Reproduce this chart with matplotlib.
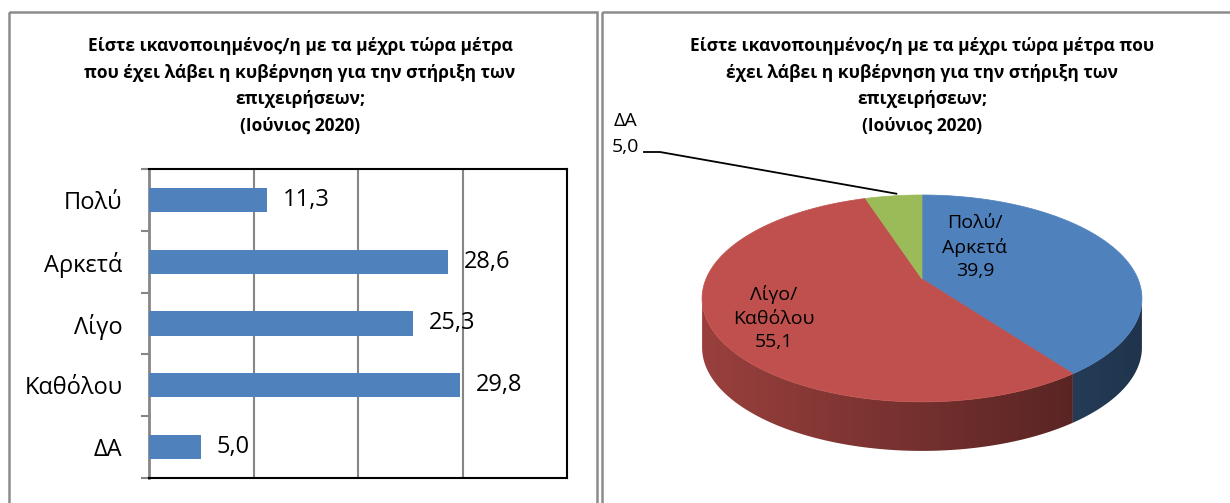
import numpy as np
import matplotlib
matplotlib.use("Agg")
import matplotlib.pyplot as plt
from matplotlib.patches import Polygon, Rectangle

plt.rcParams["font.family"] = ["Open Sans", "DejaVu Sans"]

# data
bar_labels = ["Πολύ", "Αρκετά", "Λίγο", "Καθόλου", "ΔΑ"]
bar_values = [11.3, 28.6, 25.3, 29.8, 5.0]
bar_texts = ["11,3", "28,6", "25,3", "29,8", "5,0"]

pie_labels = ["Πολύ/\nΑρκετά", "Λίγο/\nΚαθόλου", "ΔΑ"]
pie_values = [39.9, 55.1, 5.0]
pie_texts = ["39,9", "55,1", "5,0"]

title_left = ["Είστε ικανοποιημένος/η με τα μέχρι τώρα μέτρα",
              "που έχει λάβει η κυβέρνηση για την στήριξη των",
              "επιχειρήσεων;",
              "(Ιούνιος 2020)"]
title_right = ["Είστε ικανοποιημένος/η με τα μέχρι τώρα μέτρα που",
               "έχει λάβει η κυβέρνηση για την στήριξη των",
               "επιχειρήσεων;",
               "(Ιούνιος 2020)"]

W, H = 1230, 503
fig = plt.figure(figsize=(W / 100, H / 100), dpi=100)

# overlay in pixel coordinates (panels, titles, pie)
ov = fig.add_axes([0, 0, 1, 1])
ov.axis("off")

border = "#8c8c8c"
ov.add_patch(Rectangle((9, 12), 588, 520, fill=False, ec=border, lw=1.8))
ov.add_patch(Rectangle((602, 12), 700, 520, fill=False, ec=border, lw=1.8))

for i, line in enumerate(title_left):
    ov.text(300, 46 + 26.5 * i, line, ha="center", va="center",
            fontsize=12.5, fontweight="bold")
for i, line in enumerate(title_right):
    ov.text(922, 46 + 26.5 * i, line, ha="center", va="center",
            fontsize=12.5, fontweight="bold")

# bar chart
ax = fig.add_axes([149 / W, (H - 478) / H, 418 / W, 309 / H])
y = np.arange(len(bar_values))
ax.barh(y, bar_values, height=0.39, color="#4F81BD", zorder=3)
ax.set_xlim(0, 40)
ax.set_ylim(len(bar_values) - 0.5, -0.5)
for gx in [10, 20, 30]:
    ax.axvline(gx, color="#868686", lw=1.5, zorder=1)
ax.set_xticks([])
ax.set_yticks(np.arange(-0.5, len(bar_values), 1.0))
ax.set_yticklabels([])
ax.tick_params(axis="y", which="major", length=6, width=1.5, color="#868686")
ax.set_yticks(y, minor=True)
ax.set_yticklabels(bar_labels, minor=True, fontsize=17)
ax.tick_params(axis="y", which="minor", length=0, pad=19)
for s in ["top", "right", "bottom"]:
    ax.spines[s].set_color("black")
    ax.spines[s].set_linewidth(1.5)
ax.spines["left"].set_color("#868686")
ax.spines["left"].set_linewidth(2)
for i, (v, t) in enumerate(zip(bar_values, bar_texts)):
    ax.text(v + 1.5, i, t, va="center", ha="left", fontsize=17)

# 3d-looking pie, projected into pixel coordinates
cx, cy, a, b, p, depth = 922, 279, 216, 99.8, 0.188, 49
top_cols = ["#4F81BD", "#C0504D", "#9BBB59"]


def proj(theta):
    t = np.radians(theta)
    u, v = np.sin(t), np.cos(t)
    d = 1 + p * v
    return cx + a * u / d, cy - b * v / d


total = sum(pie_values)
starts = np.cumsum([0] + pie_values[:-1]) / total * 360
ends = np.cumsum(pie_values) / total * 360
front_lo = np.degrees(np.arccos(-p))
front_hi = 360 - front_lo

# side walls with a left-to-right darkening gradient
x0, x1 = cx - a * 1.03, cx + a * 1.03
fx = np.linspace(0.8, 0.4, 256)
for s, e, col in zip(starts, ends, top_cols):
    lo, hi = max(s, front_lo), min(e, front_hi)
    if hi <= lo:
        continue
    th = np.linspace(lo, hi, 200)
    xs, ys = proj(th)
    pts = list(zip(xs, ys)) + list(zip(xs[::-1], ys[::-1] + depth))
    wall = Polygon(pts, closed=True, fc="none", ec="none",
                   transform=ov.transData)
    ov.add_patch(wall)
    rgb = np.array(matplotlib.colors.to_rgb(col))
    grad = np.clip(fx[None, :, None] * rgb[None, None, :], 0, 1)
    im = ov.imshow(grad, extent=(x0, x1, cy + 2 * b, cy - b),
                   aspect="auto", interpolation="bilinear", zorder=1)
    im.set_clip_path(wall)

# top faces
for s, e, col in zip(starts, ends, top_cols):
    th = np.linspace(s, e, 200)
    xs, ys = proj(th)
    pts = [(cx, cy)] + list(zip(xs, ys))
    ov.add_patch(Polygon(pts, closed=True, fc=col, ec=col, lw=0.5, zorder=2))

ov.set_xlim(0, W)
ov.set_ylim(H, 0)

# labels
ov.text(975, 247, pie_labels[0] + "\n" + pie_texts[0], ha="center",
        va="center", fontsize=14, linespacing=1.4, zorder=3)
ov.text(774, 318, pie_labels[1] + "\n" + pie_texts[1], ha="center",
        va="center", fontsize=14, linespacing=1.4, zorder=3)
ov.text(625, 121, pie_labels[2], ha="center", va="center", fontsize=14)
ov.text(625, 147, pie_texts[2], ha="center", va="center", fontsize=14)
gx, gy = proj(starts[2] + (ends[2] - starts[2]) * 0.55)
ov.plot([644, 660, gx], [152, 152, gy - 2], color="black", lw=1.3, zorder=3)

fig.savefig("out.png", dpi=100)
